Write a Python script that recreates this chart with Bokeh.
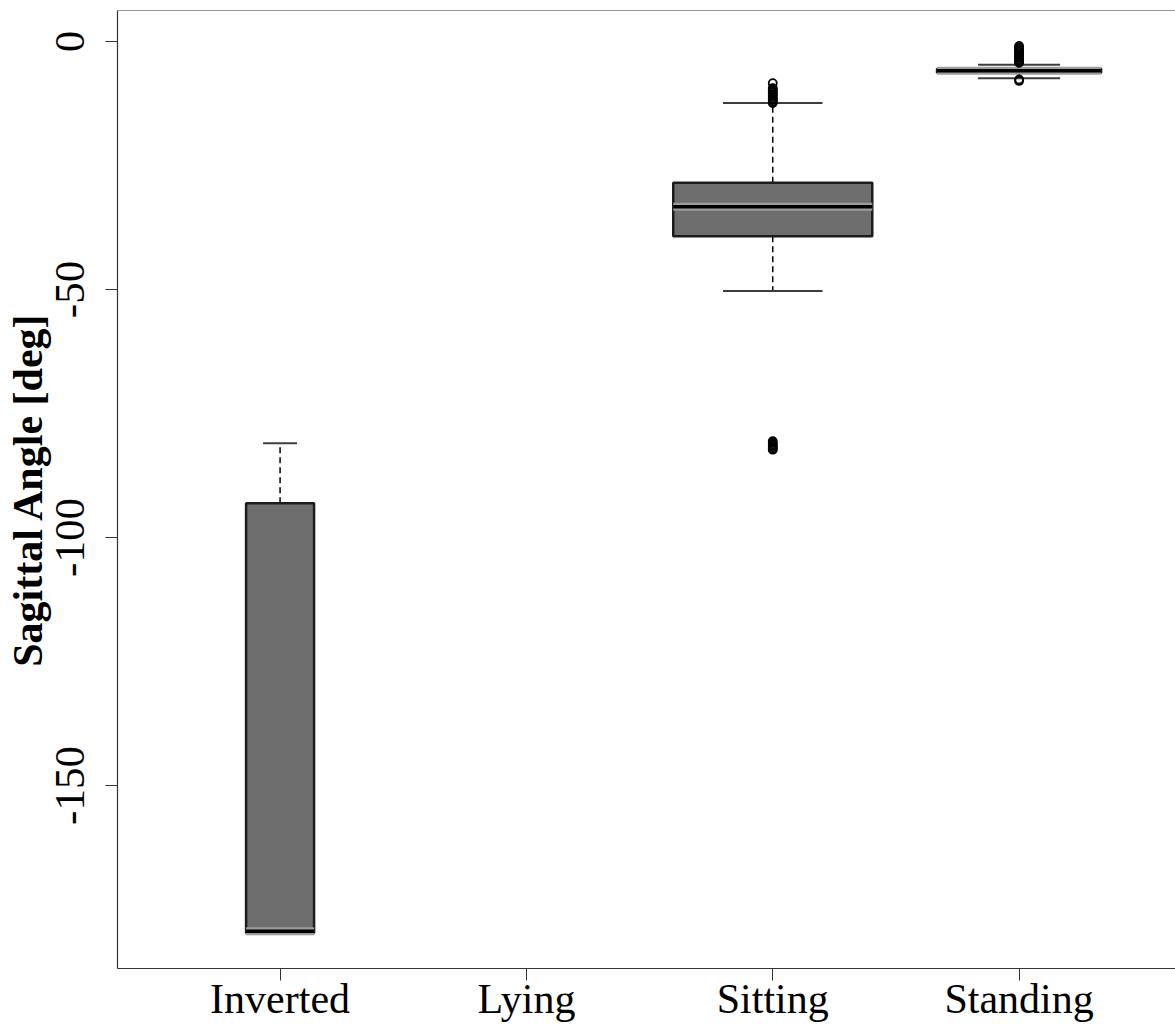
import math
from bokeh.plotting import figure
from bokeh.models import Range1d, FixedTicker, Span
from bokeh.embed import file_html
from bokeh.resources import INLINE

# ---- data ----
categories = ["Inverted", "Lying", "Sitting", "Standing"]
cat_pos = [1, 3, 4]                 # positions of categories that have data
box_names = ["Inverted", "Sitting", "Standing"]
q1 = [-179.75, -39.25, -6.3]
q3 = [-93.1, -28.5, -5.5]
median = [-179.4, -33.3, -5.9]
whisk_lo = [-179.75, -50.3, -7.4]
whisk_hi = [-81.0, -12.4, -4.7]
box_width = [0.276, 0.808, 0.666]   # varwidth-like relative widths

out_x = ([3] * 12 + [3] * 7 + [4] * 13 + [4] * 2)
out_y = ([-8.4, -9.4, -9.7, -10.0, -10.3, -10.6, -10.9, -11.2, -11.5, -11.8, -12.1, -12.4]
         + [-80.6, -80.9, -81.2, -81.5, -81.8, -82.1, -82.3]
         + [-0.9, -1.2, -1.5, -1.8, -2.1, -2.4, -2.7, -3.0, -3.3, -3.6, -3.9, -4.1, -4.3]
         + [-7.65, -7.95])

y_ticks = [0, -50, -100, -150]
y_tick_labels = ["0", "-50", "-100", "-150"]

# ---- figure ----
FONT = "Liberation Serif"
p = figure(width=1175, height=1024, output_backend="svg", toolbar_location=None,
           x_range=Range1d(0.34, 4.635), y_range=Range1d(-186.9, 6.25),
           min_border_left=117, min_border_right=0, min_border_top=10, min_border_bottom=56)
p.outline_line_color = None
p.grid.visible = False
p.background_fill_color = "white"
p.border_fill_color = "white"

left = [c - w / 2 for c, w in zip(cat_pos, box_width)]
right = [c + w / 2 for c, w in zip(cat_pos, box_width)]
st_l = [c - w / 4 for c, w in zip(cat_pos, box_width)]
st_r = [c + w / 4 for c, w in zip(cat_pos, box_width)]

# whiskers (dashed)
p.segment(x0=cat_pos, y0=q3, x1=cat_pos, y1=whisk_hi, line_color="black",
          line_width=1.5, line_dash="6 4")
p.segment(x0=cat_pos, y0=q1, x1=cat_pos, y1=whisk_lo, line_color="black",
          line_width=1.5, line_dash="6 4")
# staples
p.segment(x0=st_l, y0=whisk_hi, x1=st_r, y1=whisk_hi, line_color="#3c3c3c", line_width=2)
p.segment(x0=st_l, y0=whisk_lo, x1=st_r, y1=whisk_lo, line_color="#3c3c3c", line_width=2)
# boxes
p.quad(left=left, right=right, bottom=q1, top=q3, fill_color="#6e6e6e",
       line_color="#1c1c1c", line_width=2.5)
# median (with light halo)
p.segment(x0=left, y0=median, x1=right, y1=median, line_color="#9c9c9c", line_width=8)
p.segment(x0=left, y0=median, x1=right, y1=median, line_color="black", line_width=3.5)
# outliers
p.scatter(x=out_x, y=out_y, marker="circle", size=8, fill_color=None,
          line_color="black", line_width=1.8)

# top frame edge
p.add_layout(Span(location=p.y_range.end, dimension="width", line_color="#333333", line_width=1.2))

# axes
xa = p.xaxis[0]
xa.ticker = FixedTicker(ticks=[1, 2, 3, 4])
xa.major_label_overrides = {i + 1: c for i, c in enumerate(categories)}
xa.minor_tick_line_color = None
xa.major_tick_out = 12
xa.major_tick_in = 0
xa.major_label_standoff = -5
xa.major_label_text_font = FONT
xa.major_label_text_font_size = "42px"
xa.major_label_text_color = "black"
xa.axis_line_color = "#333333"
xa.axis_line_width = 1.2
xa.major_tick_line_color = "#333333"

ya = p.yaxis[0]
ya.ticker = FixedTicker(ticks=y_ticks)
ya.major_label_overrides = {t: s for t, s in zip(y_ticks, y_tick_labels)}
ya.minor_tick_line_color = None
ya.major_tick_out = 12
ya.major_tick_in = 0
ya.major_label_standoff = 21
ya.major_label_orientation = "vertical"
ya.major_label_text_font = FONT
ya.major_label_text_font_size = "43px"
ya.major_label_text_color = "black"
ya.axis_label = "Sagittal Angle [deg]"
ya.axis_label_text_font = FONT
ya.axis_label_text_font_style = "bold"
ya.axis_label_text_font_size = "42px"
ya.axis_label_text_color = "black"
ya.axis_label_standoff = 3
ya.axis_line_color = "#333333"
ya.axis_line_width = 1.2
ya.major_tick_line_color = "#333333"

open("out.html", "w").write(file_html(p, INLINE))
